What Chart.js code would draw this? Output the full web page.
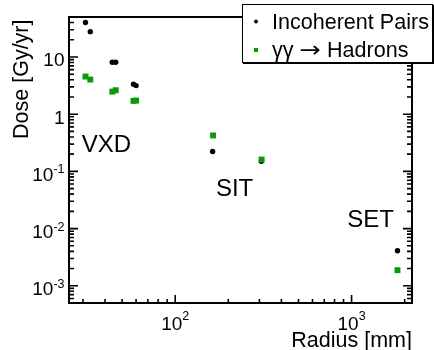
<!DOCTYPE html>
<html><head><meta charset="utf-8">
<script src="https://cdn.jsdelivr.net/npm/chart.js@4"></script>
<style>html,body{margin:0;padding:0;background:#fff;overflow:hidden}</style>
</head><body>
<canvas id="c" width="434" height="350" style="width:434px;height:350px;display:block"></canvas>
<script>
const seriesNames = ['Incoherent Pairs', 'γγ → Hadrons'];
const pairsRadius = [31, 33, 44, 46, 58, 60, 163, 308, 1820];
const pairsDose = [40, 27.7, 8.1, 8.1, 3.33, 3.16, 0.222, 0.15, 0.0041];
const hadronsRadius = [31, 33, 44, 46, 58, 60, 164, 309, 1820];
const hadronsDose = [4.55, 4.03, 2.48, 2.62, 1.71, 1.73, 0.425, 0.161, 0.00187];
const xTickValues = [100, 1000];
const xTickBase = ['10', '10'];
const xTickExp = ['2', '3'];
const yTickValues = [0.001, 0.01, 0.1, 1, 10];
const yTickBase = ['10', '10', '10', '1', '10'];
const yTickExp = ['-3', '-2', '-1', '', ''];
const regionNames = ['VXD', 'SIT', 'SET'];
const regionRadius = [40.7, 217, 1281];
const regionDose = [0.222, 0.0372, 0.0105];
const xTitle = 'Radius [mm]';
const yTitle = 'Dose [Gy/yr]';

const FONT = '"Liberation Sans", Arial, Helvetica, sans-serif';
const GREEN = '#0a990a';

function logTicks(min, max) {
  const out = [];
  for (let e = Math.floor(Math.log10(min)); e <= Math.ceil(Math.log10(max)); e++) {
    for (let m = 1; m <= 9; m++) {
      const v = m * Math.pow(10, e);
      if (v >= min * 0.999 && v <= max * 1.001) out.push({ v, major: m === 1 });
    }
  }
  return out;
}

const rootPlugin = {
  id: 'rootStyle',
  beforeDraw(chart) {
    const c = chart.ctx;
    c.save(); c.fillStyle = '#fff'; c.fillRect(0, 0, chart.width, chart.height); c.restore();
  },
  afterDraw(chart) {
    const ctx = chart.ctx, a = chart.chartArea, xs = chart.scales.x, ys = chart.scales.y;
    ctx.save();
    ctx.strokeStyle = '#000'; ctx.fillStyle = '#000';
    ctx.lineWidth = 2;
    ctx.strokeRect(a.left, a.top, a.right - a.left, a.bottom - a.top);
    ctx.lineWidth = 1.6;
    ctx.beginPath();
    for (const t of logTicks(xs.min, xs.max)) {
      const px = xs.getPixelForValue(t.v); const L = t.major ? 8 : 4;
      ctx.moveTo(px, a.bottom); ctx.lineTo(px, a.bottom - L);
    }
    for (const t of logTicks(ys.min, ys.max)) {
      const py = ys.getPixelForValue(t.v); const L = t.major ? 9 : 5;
      ctx.moveTo(a.left, py); ctx.lineTo(a.left + L, py);
      ctx.moveTo(a.right, py); ctx.lineTo(a.right - L, py);
    }
    ctx.stroke();

    // x tick labels
    ctx.textBaseline = 'alphabetic';
    xTickValues.forEach((v, i) => {
      const px = xs.getPixelForValue(v);
      ctx.font = '19px ' + FONT; const wb = ctx.measureText(xTickBase[i]).width;
      ctx.font = '12.5px ' + FONT; const we = ctx.measureText(xTickExp[i]).width;
      const x0 = px - (wb + we) / 2;
      ctx.textAlign = 'left';
      ctx.font = '19px ' + FONT; ctx.fillText(xTickBase[i], x0, a.bottom + 27);
      ctx.font = '12.5px ' + FONT; ctx.fillText(xTickExp[i], x0 + wb, a.bottom + 17);
    });
    // y tick labels
    yTickValues.forEach((v, i) => {
      const py = ys.getPixelForValue(v);
      ctx.font = '12.5px ' + FONT; const we = yTickExp[i] ? ctx.measureText(yTickExp[i]).width : 0;
      const right = a.left - 4.5;
      ctx.textAlign = 'right';
      if (yTickExp[i]) { ctx.fillText(yTickExp[i], right, py + 2); }
      ctx.font = '19px ' + FONT; ctx.fillText(yTickBase[i], right - we, py + 9.5);
    });

    // axis titles
    ctx.font = '21.5px ' + FONT;
    ctx.textAlign = 'right';
    ctx.fillText(xTitle, a.right, 347);
    ctx.save();
    ctx.translate(27.5, 19.5); ctx.rotate(-Math.PI / 2);
    ctx.fillText(yTitle, 0, 0);
    ctx.restore();

    // region labels
    ctx.font = '24px ' + FONT; ctx.textAlign = 'center';
    regionNames.forEach((n, i) => {
      ctx.fillText(n, xs.getPixelForValue(regionRadius[i]), ys.getPixelForValue(regionDose[i]));
    });

    // legend box
    const lx = 242, ly = 4, lw = 190, lh = 58;
    ctx.fillStyle = '#fff'; ctx.fillRect(lx, ly, lw + 2, lh + 2);
    ctx.strokeStyle = '#000'; ctx.lineWidth = 1;
    ctx.strokeRect(lx + 0.5, ly + 0.5, lw, lh);
    ctx.beginPath();
    ctx.moveTo(lx + 1, ly + lh + 1.5); ctx.lineTo(lx + lw + 2, ly + lh + 1.5);
    ctx.moveTo(lx + lw + 1.5, ly + 1); ctx.lineTo(lx + lw + 1.5, ly + lh + 2);
    ctx.stroke();
    // legend markers
    ctx.fillStyle = '#000';
    ctx.beginPath(); ctx.arc(256, 21.5, 1.9, 0, Math.PI * 2); ctx.fill();
    ctx.fillStyle = GREEN; ctx.fillRect(254, 48, 4, 4);
    // legend texts
    ctx.fillStyle = '#000'; ctx.textAlign = 'left';
    ctx.font = '21.5px ' + FONT;
    const w1 = ctx.measureText(seriesNames[0]).width;
    const fs = 21.5 * 157 / w1;
    ctx.font = fs.toFixed(2) + 'px ' + FONT;
    ctx.fillText(seriesNames[0], 272, 29.3);
    // second entry: split around the arrow so the arrow can be drawn long like ROOT's
    const parts = seriesNames[1].split(' → ');
    ctx.fillText(parts[0], 272, 57.3);
    const wH = ctx.measureText(parts[1]).width;
    ctx.fillText(parts[1], 327, 57.3);
    // arrow glyph, stretched horizontally to span ~299..321
    ctx.save();
    ctx.font = '22px "DejaVu Sans", ' + FONT;
    const wa = ctx.measureText('→').width;
    ctx.translate(299.5, 57.3);
    ctx.scale(21.5 / wa, 1);
    ctx.fillText('→', 0, 0);
    ctx.restore();
    ctx.restore();
  }
};

new Chart(document.getElementById('c'), {
  type: 'scatter',
  data: {
    datasets: [
      { label: seriesNames[0], data: pairsRadius.map((x, i) => ({ x, y: pairsDose[i] })),
        pointStyle: 'circle', pointRadius: 2.7, pointHoverRadius: 2.7,
        backgroundColor: '#000', borderColor: '#000', borderWidth: 0, order: 1 },
      { label: seriesNames[1], data: hadronsRadius.map((x, i) => ({ x, y: hadronsDose[i] })),
        pointStyle: 'rect', pointRadius: 4.2, pointHoverRadius: 4.2,
        backgroundColor: GREEN, borderColor: GREEN, borderWidth: 0, order: 0 }
    ]
  },
  options: {
    responsive: false, animation: false, devicePixelRatio: 1,
    layout: { padding: { top: 17, right: 22, left: 0, bottom: 0 } },
    plugins: { legend: { display: false }, tooltip: { enabled: false } },
    events: [],
    scales: {
      x: { type: 'logarithmic', min: 25, max: 2200,
           ticks: { display: false }, grid: { display: false, drawTicks: false }, border: { display: false },
           afterFit(s) { s.height = 47; } },
      y: { type: 'logarithmic', min: 5e-4, max: 50,
           ticks: { display: false }, grid: { display: false, drawTicks: false }, border: { display: false },
           afterFit(s) { s.width = 69; } }
    }
  },
  plugins: [rootPlugin]
});
</script>
</body></html>
